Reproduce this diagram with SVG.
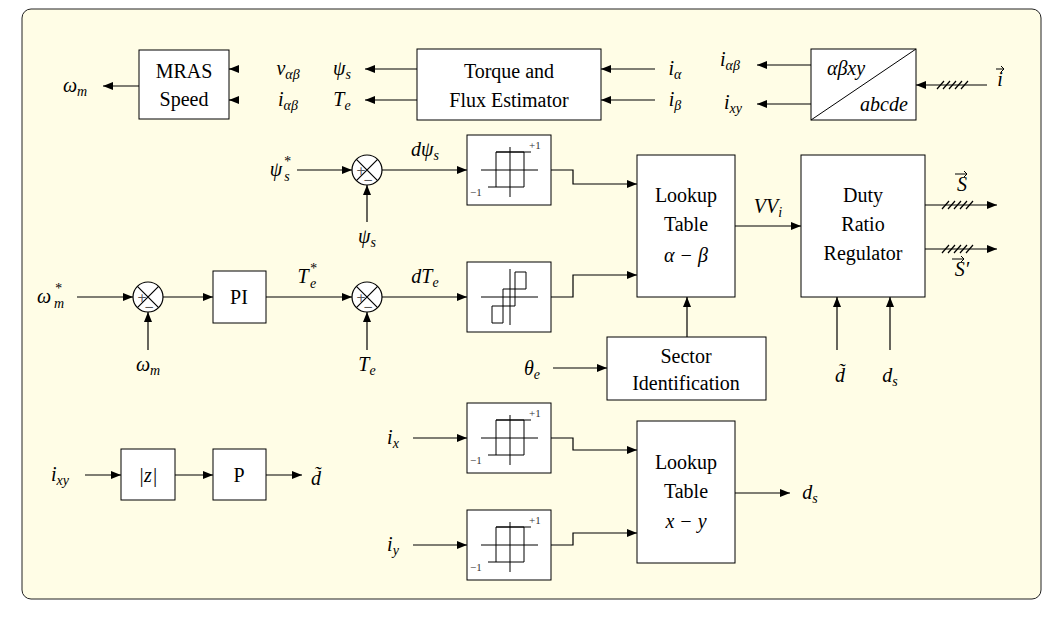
<svg xmlns="http://www.w3.org/2000/svg" width="1063" height="617" viewBox="0 0 1063 617" font-family="'Liberation Serif', 'DejaVu Serif', serif">
<defs>
<marker id="ar" viewBox="0 0 10 10" refX="10" refY="5" markerWidth="10" markerHeight="10" markerUnits="userSpaceOnUse" orient="auto"><path d="M0,1 L10,5 L0,9 z" fill="#000"/></marker>
<g id="sum"><circle r="15" fill="#fff" stroke="#000" stroke-width="1.2"/><path d="M-10.6,-10.6 L10.6,10.6 M-10.6,10.6 L10.6,-10.6" stroke="#000" stroke-width="1.2"/><text x="-11" y="5" font-size="12" fill="#555" font-family="'DejaVu Sans', sans-serif">+</text><text x="-4" y="14" font-size="12" fill="#555" font-family="'DejaVu Sans', sans-serif">−</text></g>
<g id="hyst"><rect x="0" y="0" width="84" height="70" fill="#fff" stroke="#000"/><path d="M14,35 H71 M43,12 V62 M29,52 V17 H57 V52 H21 M29,17 H64" fill="none" stroke="#000"/><text x="62" y="14" font-size="11" fill="#333">+1</text><text x="3" y="61" font-size="11" fill="#333">−1</text></g>
</defs>
<style>
.b{fill:#fff;stroke:#000;stroke-width:1}
.t{font-size:20px;text-anchor:middle}
.m{font-style:italic;font-size:20px;text-anchor:middle}
.c path{fill:none;stroke:#000;stroke-width:1.2}
.c .a{marker-end:url(#ar)}
</style>
<rect x="22" y="9" width="1019" height="590" rx="9" fill="#fffde6" stroke="#222" stroke-width="1"/>
<g class="c" id="connectors">
<path class="a" d="M139,86 H103"/>
<path class="a" d="M237,69 H229"/><path class="a" d="M237,100 H229"/>
<path class="a" d="M417,69 H365"/><path class="a" d="M417,100 H365"/>
<path class="a" d="M655,69 H601"/><path class="a" d="M655,100 H601"/>
<path class="a" d="M811,65 H757"/><path class="a" d="M811,104 H757"/>
<path class="a" d="M987,85 H916"/>
<path d="M937,89 L944,81 M943,89 L950,81 M949,89 L956,81 M955,89 L962,81 M961,89 L968,81"/>
<path class="a" d="M297,170 H352"/><path class="a" d="M367,222 V185"/>
<path class="a" d="M382,170 H467"/>
<path class="a" d="M551,170 H573 V184 H637"/>
<path class="a" d="M77,297 H133"/><path class="a" d="M148,350 V312"/>
<path class="a" d="M163,297 H213"/>
<path class="a" d="M266,297 H352"/><path class="a" d="M367,350 V312"/>
<path class="a" d="M382,297 H467"/>
<path class="a" d="M551,297 H573 V275 H637"/>
<path class="a" d="M735,226 H801"/>
<path class="a" d="M925,205 H997"/><path d="M942,209 L949,201 M948,209 L955,201 M954,209 L961,201 M960,209 L967,201 M966,209 L973,201"/>
<path class="a" d="M925,249 H997"/><path d="M942,253 L949,245 M948,253 L955,245 M954,253 L961,245 M960,253 L967,245 M966,253 L973,245"/>
<path class="a" d="M837,350 V297"/><path class="a" d="M890,350 V297"/>
<path class="a" d="M553,368 H607"/><path class="a" d="M687,337 V297"/>
<path class="a" d="M85,475 H121"/><path class="a" d="M175,475 H213"/><path class="a" d="M266,475 H302"/>
<path class="a" d="M413,438 H467"/><path class="a" d="M551,438 H573 V450 H637"/>
<path class="a" d="M413,545 H467"/><path class="a" d="M551,545 H573 V533 H637"/>
<path class="a" d="M735,493 H790"/>
</g>
<g id="mras"><rect class="b" x="139" y="50" width="90" height="69"/><text class="t" x="184" y="78">MRAS</text><text class="t" x="184" y="106">Speed</text></g>
<g id="estimator"><rect class="b" x="417" y="49" width="184" height="71"/><text class="t" x="509" y="78">Torque and</text><text class="t" x="509" y="107">Flux Estimator</text></g>
<g id="transform"><rect class="b" x="811" y="49" width="105" height="71"/><path d="M811,120 L916,49" stroke="#000"/><text class="m" x="846" y="75">αβxy</text><text class="m" x="884" y="111">abcde</text></g>
<g id="sum1"><use href="#sum" x="367" y="170"/></g>
<g id="sum2"><use href="#sum" x="367" y="297"/></g>
<g id="sum3"><use href="#sum" x="148" y="297"/></g>
<g id="hyst1"><use href="#hyst" x="467" y="135"/></g>
<g id="hyst2"><rect class="b" x="467" y="262" width="84" height="70"/><path d="M481,297 H538 M510,269 V325 M492,306 H503 V323 H492 Z M503,289 H515 V306 H503 Z M515,272 H526 V289 H515 Z" fill="none" stroke="#000"/></g>
<g id="hyst3"><use href="#hyst" x="467" y="403"/></g>
<g id="hyst4"><use href="#hyst" x="467" y="510"/></g>
<g id="lut1"><rect class="b" x="637" y="155" width="98" height="142"/><text class="t" x="686" y="202">Lookup</text><text class="t" x="686" y="231">Table</text><text class="m" x="686" y="262">α − β</text></g>
<g id="duty"><rect class="b" x="801" y="155" width="124" height="142"/><text class="t" x="863" y="202">Duty</text><text class="t" x="863" y="231">Ratio</text><text class="t" x="863" y="260">Regulator</text></g>
<g id="sector"><rect class="b" x="607" y="337" width="159" height="63"/><text class="t" x="686" y="363">Sector</text><text class="t" x="686" y="390">Identification</text></g>
<g id="pi"><rect class="b" x="213" y="271" width="53" height="52"/><text class="t" x="239" y="304">PI</text></g>
<g id="abs"><rect class="b" x="121" y="449" width="54" height="51"/><text class="m" x="148" y="482">|z|</text></g>
<g id="p"><rect class="b" x="213" y="449" width="53" height="51"/><text class="t" x="239" y="482">P</text></g>
<g id="lut2"><rect class="b" x="637" y="421" width="98" height="142"/><text class="t" x="686" y="469">Lookup</text><text class="t" x="686" y="498">Table</text><text class="m" x="686" y="528">x − y</text></g>
<g id="vecs" fill="none" stroke="#000" stroke-width="1">
<path d="M996,69 H1004 M1001,66 L1004,69 L1001,72"/>
<path d="M955,174 H967 M964,171 L967,174 L964,177"/>
<path d="M952,259 H964 M961,256 L964,259 L961,262"/>
</g>
<g id="labels" class="m">
<text x="75" y="92">ω<tspan font-size="14" dy="4">m</tspan></text>
<text x="288" y="75">v<tspan font-size="14" dy="4">αβ</tspan></text>
<text x="288" y="106">i<tspan font-size="14" dy="4">αβ</tspan></text>
<text x="342" y="75">ψ<tspan font-size="14" dy="4">s</tspan></text>
<text x="342" y="106">T<tspan font-size="14" dy="4">e</tspan></text>
<text x="675" y="75">i<tspan font-size="14" dy="4">α</tspan></text>
<text x="675" y="106">i<tspan font-size="14" dy="4">β</tspan></text>
<text x="730" y="66">i<tspan font-size="14" dy="4">αβ</tspan></text>
<text x="733" y="109">i<tspan font-size="14" dy="4">xy</tspan></text>
<text x="1000" y="86">i</text>
<text x="276" y="176">ψ</text><text x="287" y="181" font-size="14">s</text><text x="287" y="166" font-size="14">*</text>
<text x="367" y="243">ψ<tspan font-size="14" dy="4">s</tspan></text>
<text x="425" y="156">dψ<tspan font-size="14" dy="4">s</tspan></text>
<text x="44" y="303">ω</text><text x="59" y="308" font-size="14">m</text><text x="58" y="293" font-size="14">*</text>
<text x="148" y="371">ω<tspan font-size="14" dy="4">m</tspan></text>
<text x="303" y="283">T</text><text x="313" y="288" font-size="14">e</text><text x="313" y="273" font-size="14">*</text>
<text x="367" y="371">T<tspan font-size="14" dy="4">e</tspan></text>
<text x="425" y="283">dT<tspan font-size="14" dy="4">e</tspan></text>
<text x="768" y="213">VV<tspan font-size="14" dy="4">i</tspan></text>
<text x="962" y="191">S</text>
<text x="962" y="276">S′</text>
<text x="840" y="382">d̃</text>
<text x="890" y="382">d<tspan font-size="14" dy="4">s</tspan></text>
<text x="532" y="375">θ<tspan font-size="14" dy="4">e</tspan></text>
<text x="60" y="481">i<tspan font-size="14" dy="4">xy</tspan></text>
<text x="316" y="485">d̃</text>
<text x="393" y="444">i<tspan font-size="14" dy="4">x</tspan></text>
<text x="393" y="551">i<tspan font-size="14" dy="4">y</tspan></text>
<text x="810" y="499">d<tspan font-size="14" dy="4">s</tspan></text>
</g>
</svg>
